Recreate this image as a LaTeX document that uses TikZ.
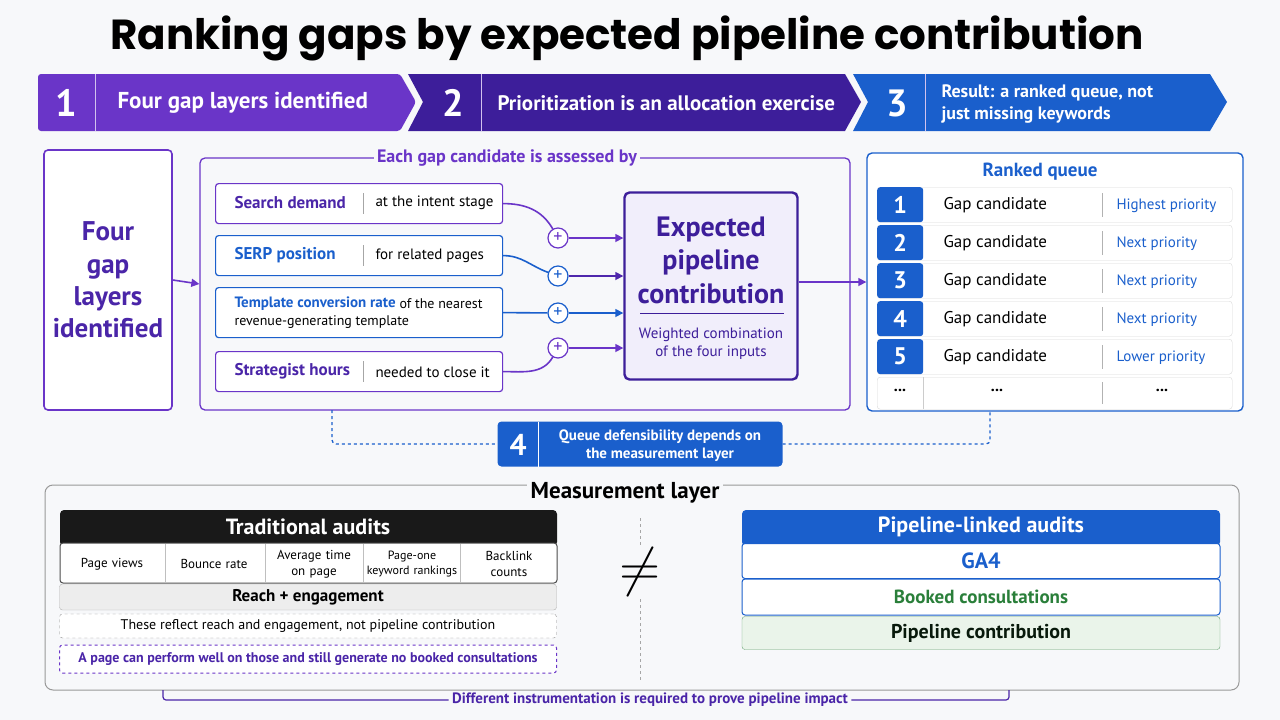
\documentclass[tikz,border=0pt]{standalone}
\usepackage{fontspec}
\setmainfont{PT Sans}
\newfontfamily\titlefont{Poppins}
\usetikzlibrary{positioning,arrows.meta,calc}
\definecolor{bgc}{HTML}{F7F8FA}
\definecolor{purp}{HTML}{6A35C8}
\definecolor{indigo}{HTML}{3D1E9A}
\definecolor{blu}{HTML}{1A5FCC}
\definecolor{lav}{HTML}{F1EEFB}
\definecolor{grn}{HTML}{2A7F3A}
\definecolor{lgrn}{HTML}{EAF4EA}
\newcommand{\fs}[1]{\fontsize{#1}{\dimexpr #1pt*6/5\relax}\selectfont}
\tikzset{
	px/.style={x=1pt, y=-1pt},
	inbox/.style={draw, rounded corners=3pt, line width=1.2pt, fill=white, minimum width=287pt, anchor=north west},
	plus/.style={circle, draw=purp, line width=1.2pt, fill=white, minimum size=20pt, inner sep=0pt, font=\fs{18}, text=purp},
	feed/.style={line width=1.6pt},
	arrow/.style={-{Triangle[length=8pt,width=8pt]}, line width=1.6pt},
	qrow/.style={draw=black!15, rounded corners=3pt, fill=white, minimum width=355pt, minimum height=35pt, anchor=north west},
	qnum/.style={fill=blu, text=white, font=\bfseries\fs{24}, minimum width=46pt, minimum height=35pt, anchor=north west, rounded corners=3pt},
	cell/.style={font=\fs{13}, align=center, text width=98pt},
	qlink/.style={dashed, line width=1.3pt, blu}
}
\begin{document}
\begin{tikzpicture}[px]
\fill[bgc] (0,0) rectangle (1280,720);
\useasboundingbox (0,0) rectangle (1280,720);

% title
\node (title) at (627,38) {\titlefont\bfseries\fs{42}Ranking gaps by expected pipeline contribution};

% step chevrons
\fill[purp, rounded corners=3pt] (38,74) -- (400,74) -- (416,102) -- (400,131) -- (38,131) -- cycle;
\fill[indigo] (408,74) -- (845,74) -- (861,102) -- (845,131) -- (408,131) -- (423,102) -- cycle;
\fill[blu] (853,74) -- (1210,74) -- (1227,102) -- (1210,131) -- (853,131) -- (868,102) -- cycle;
\draw[white!70!purp, line width=0.6pt] (95,74) -- (95,131) (481,74) -- (481,131) (925,74) -- (925,131);
\node[text=white, font=\bfseries\fs{38}] (n1) at (66,103) {1};
\node[text=white, font=\bfseries\fs{23}, anchor=west] (s1) at (114,103) {Four gap layers identified};
\node[text=white, font=\bfseries\fs{38}] (n2) at (453,103) {2};
\node[text=white, font=\bfseries\fs{21}, anchor=west] (s2) at (494,103) {Prioritization is an allocation exercise};
\node[text=white, font=\bfseries\fs{18}, anchor=west, align=left] (s3) at (938,104) {Result: a ranked queue, not\\just missing keywords};
\node[text=white, font=\bfseries\fs{38}] (n3) at (897,103) {3};

% left box
\node[draw=purp, line width=1.6pt, rounded corners=4pt, fill=white, minimum width=128pt, minimum height=260pt, text=indigo!70!purp, font=\bfseries\fs{27}, align=center] (layers) at (108,280) {Four\\gap\\layers\\identified};

% assessment frame
\node[draw=purp, line width=1.3pt, rounded corners=5pt, minimum width=650pt, minimum height=252pt] (assess) at (525,284) {};
\node[fill=bgc, text=purp, font=\bfseries\fs{18}] (assesst) at (507,158) {Each gap candidate is assessed by};
\draw[arrow, purp] (layers.east) -- (assess.west);

% inputs
\node[inbox, draw=purp, minimum height=40pt] (sd) at (215,183) {};
\node[inbox, draw=blu, minimum height=40pt] (sp) at (215,235) {};
\node[inbox, draw=blu, minimum height=50pt] (tc) at (215,287) {};
\node[inbox, draw=purp, minimum height=40pt] (sh) at (215,351) {};
\foreach \b in {sd,sp,sh} \draw[black!35] ($(\b.north west)+(148,10)$) -- ($(\b.south west)+(148,-10)$);
\node[anchor=west, text=indigo!70!purp, font=\bfseries\fs{17}] at (231,203) {Search demand};
\node[anchor=west, font=\fs{15}] at (372,203) {at the intent stage};
\node[anchor=west, text=blu, font=\bfseries\fs{17}] at (231,255) {SERP position};
\node[anchor=west, font=\fs{15}] at (372,256) {for related pages};
\node[anchor=west, text=blu, font=\bfseries\fs{15}] at (231,304) {Template conversion rate};
\node[anchor=west, font=\fs{14}] at (396,304) {of the nearest};
\node[anchor=west, font=\fs{14}] at (231,322) {revenue-generating template};
\node[anchor=west, text=indigo!70!purp, font=\bfseries\fs{17}] at (231,371) {Strategist hours};
\node[anchor=west, font=\fs{15}] at (372,372) {needed to close it};

% expected contribution
\node[draw=indigo, line width=2.4pt, rounded corners=5pt, fill=lav, minimum width=173pt, minimum height=187pt] (ex) at (711,286) {};
\node[text=indigo, font=\bfseries\fs{28}, align=center] (ext) at (711,260) {Expected\\pipeline\\contribution};
\draw[indigo, line width=1pt] (640,313) -- (784,313);
\node[text=indigo, font=\fs{15}, align=center] (exs) at (711,344) {Weighted combination\\of the four inputs};

% plus joins
\node[plus] (p1) at (558,238) {+};
\node[plus, draw=blu, text=blu] (p2) at (558,276) {+};
\node[plus, draw=blu, text=blu] (p3) at (558,313) {+};
\node[plus] (p4) at (558,348) {+};
\draw[feed, purp] (sd.east) to[out=0, in=120] (p1);
\draw[feed, blu] (sp.east) to[out=0, in=160] (p2);
\draw[feed, blu] (tc.east) -- (p3);
\draw[feed, purp] (sh.east) to[out=0, in=240] (p4);
\draw[arrow, purp] (p1) -- (ex.west |- p1);
\draw[arrow, indigo!60!purp] (p2) -- (ex.west |- p2);
\draw[arrow, blu] (p3) -- (ex.west |- p3);
\draw[arrow, purp] (p4) -- (ex.west |- p4);

% ranked queue
\node[draw=blu, line width=1.4pt, rounded corners=5pt, fill=white, minimum width=376pt, minimum height=258pt] (queue) at (1055,282) {};
\draw[arrow, purp] (ex.east |- queue.west) -- (queue.west);
\node[text=blu, font=\bfseries\fs{19}] (queuet) at (1040,172) {Ranked queue};
\foreach \i/\p in {1/Highest priority,2/Next priority,3/Next priority,4/Next priority,5/Lower priority}{
  \node[qrow] (r\i) at (877,{187+38*(\i-1)}) {};
  \node[qnum] (q\i) at (877,{187+38*(\i-1)}) {\i};
  \node[anchor=west, font=\fs{17}] at (940,{205+38*(\i-1)}) {Gap candidate};
  \draw[black!30] (1102,{193+38*(\i-1)}) -- (1102,{217+38*(\i-1)});
  \node[anchor=west, text=blu, font=\fs{15}] at (1113,{206+38*(\i-1)}) {\p};
}
\node[qrow, minimum height=32pt] (r6) at (877,377) {};
\draw[black!20] (923,377) -- (923,409);
\draw[black!30] (1102,382) -- (1102,404);
\node[font=\bfseries\fs{16}] (d1) at (900,390) {...};
\node[font=\bfseries\fs{16}] (d2) at (997,390) {...};
\node[font=\bfseries\fs{16}] (d3) at (1162,390) {...};

% step 4
\node[fill=blu, rounded corners=4pt, minimum width=285pt, minimum height=45pt] (st4) at (640,444) {};
\draw[white, line width=0.7pt] (538,422) -- (538,467);
\node[text=white, font=\bfseries\fs{30}] (n4) at (518,445) {4};
\node[text=white, font=\bfseries\fs{15}, align=center] (st4t) at (660,446) {Queue defensibility depends on\\the measurement layer};
\coordinate (ql) at (332,410);
\coordinate (qr) at (990,411);
\draw[qlink, rounded corners=4pt] (ql) |- (st4.west);
\draw[qlink, rounded corners=4pt] (st4.east) -| (qr);

% measurement layer
\draw[black!40, line width=1pt, rounded corners=8pt] (45,485) rectangle (1239,690);
\node[fill=bgc, font=\bfseries\fs{23}] (meas) at (625,493) {Measurement layer};

% traditional audits
\fill[black!90, rounded corners=4pt] (60,510) rectangle (557,546);
\node[text=white, font=\bfseries\fs{22}] (trad) at (308,527) {Traditional audits};
\draw[black!70, fill=white, rounded corners=3pt, line width=1pt] (60,543) rectangle (557,583);
\foreach \x in {165,265,363,460} \draw[black!25] (\x,544) -- (\x,582);
\node[cell] (c1) at (112,564) {Page views};
\node[cell] (c2) at (214,564) {Bounce rate};
\node[cell] (c3) at (314,564) {Average time\\on page};
\node[cell, font=\fs{12}] (c4) at (412,564) {Page-one\\keyword rankings};
\node[cell] (c5) at (509,564) {Backlink\\counts};
\node[draw=black!30, fill=black!7, rounded corners=3pt, minimum width=497pt, minimum height=26pt, font=\bfseries\fs{17}] (reach) at (308,597) {Reach + engagement};
\node[draw=black!45, dashed, fill=white, rounded corners=3pt, minimum width=497pt, minimum height=24pt, font=\fs{14}] (refl) at (308,626) {These reflect reach and engagement, not pipeline contribution};
\node[draw=purp, dashed, line width=1pt, fill=white, rounded corners=3pt, minimum width=497pt, minimum height=28pt, text=indigo!70!purp, font=\bfseries\fs{14}] (perf) at (308,659) {A page can perform well on those and still generate no booked consultations};

% not equal
\node[fill=bgc, inner sep=3pt, font=\fs{12}] (neq) at (640,572) {\scalebox{4.5}{$\neq$}};
\draw[black!35, dashed] (640,518) -- (neq.north);
\draw[black!35, dashed] (neq.south) -- (640,680);

% pipeline-linked audits
\fill[blu, rounded corners=4pt] (742,510) rectangle (1220,546);
\node[text=white, font=\bfseries\fs{22}] (pla) at (981,527) {Pipeline-linked audits};
\node[draw=blu, fill=white, rounded corners=3pt, line width=1pt, minimum width=478pt, minimum height=35pt, text=blu, font=\bfseries\fs{22}] (ga4) at (981,561) {GA4};
\node[draw=blu, fill=white, rounded corners=3pt, line width=1pt, minimum width=478pt, minimum height=36pt, text=grn, font=\bfseries\fs{19}] (book) at (981,597) {Booked consultations};
\node[draw=grn!70, fill=lgrn, rounded corners=3pt, minimum width=478pt, minimum height=33pt, text=black!80!grn, font=\bfseries\fs{20}] (pc) at (981,633) {Pipeline contribution};

% bottom note
\node[text=indigo!70!purp, font=\bfseries\fs{15}] (note) at (650,700) {Different instrumentation is required to prove pipeline impact};
\coordinate (bl) at (163,690);
\coordinate (br) at (1009,690);
\draw[indigo!70!purp, line width=1.2pt, rounded corners=3pt] (bl) |- (note.west);
\draw[indigo!70!purp, line width=1.2pt, rounded corners=3pt] (note.east) -| (br);
\end{tikzpicture}
\end{document}
